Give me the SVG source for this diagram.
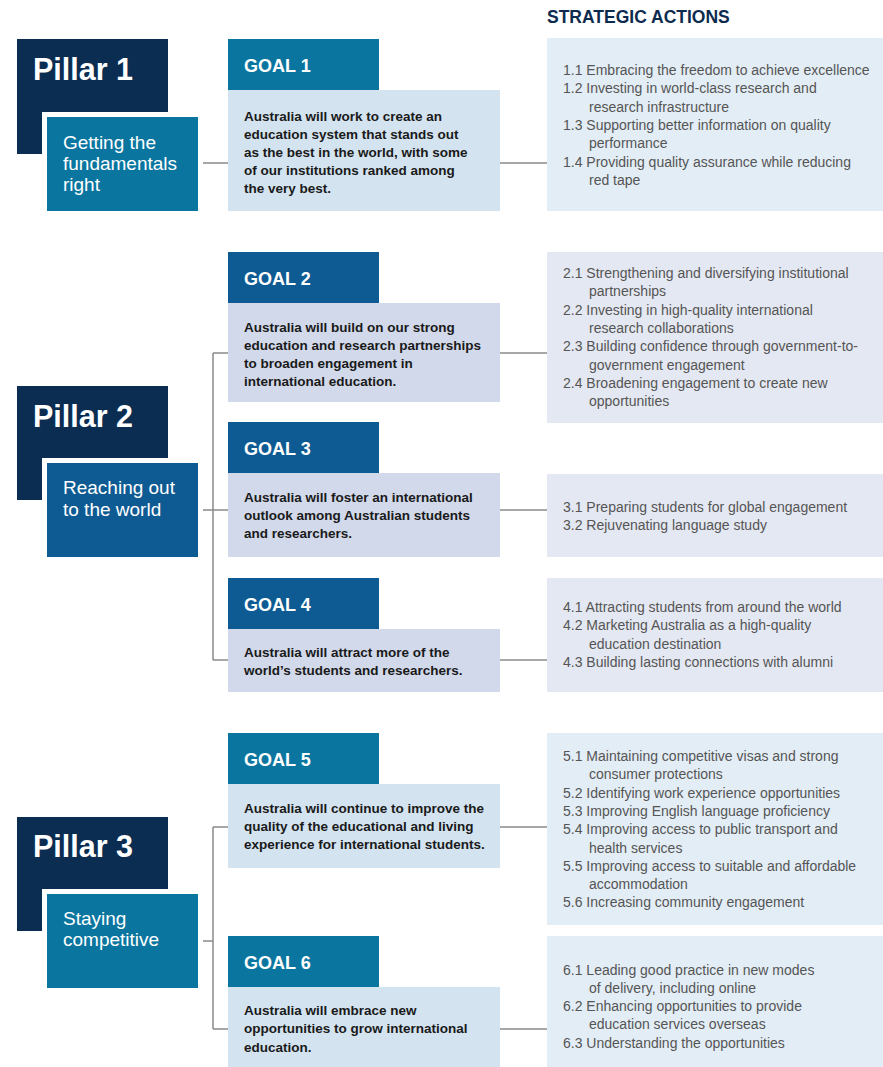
<svg xmlns="http://www.w3.org/2000/svg" width="883" height="1067" viewBox="0 0 883 1067">
<style>
.bg{fill:#ffffff}
.navy{fill:#0b2d52}
.teal{fill:#0a76a0}
.blue{fill:#0e5b93}
.lb{fill:#d3e3ef}
.lv{fill:#d1d9ea}
.ab{fill:#e3edf5}
.av{fill:#e4e8f2}
.pt{font-family:"Liberation Sans",Arial,sans-serif;font-weight:bold;font-size:30.5px;fill:#ffffff}
.st{font-family:"Liberation Sans",Arial,sans-serif;font-size:19px;fill:#ffffff}
.gh{font-family:"Liberation Sans",Arial,sans-serif;font-weight:bold;font-size:18px;fill:#ffffff}
.gt{font-family:"Liberation Sans",Arial,sans-serif;font-weight:bold;font-size:13.5px;fill:#1a1a1a}
.at{font-family:"Liberation Sans",Arial,sans-serif;font-size:14px;fill:#555555}
.title{font-family:"Liberation Sans",Arial,sans-serif;font-weight:bold;font-size:17.5px;fill:#0d2b4e}
.conn{stroke:#8a8a8a;stroke-width:1.5;fill:none}
</style>
<rect x="0" y="0" width="883" height="1067" class="bg"/>
<text x="547" y="22.5" class="title">STRATEGIC ACTIONS</text>

<g id="connectors">
<path class="conn" d="M198 163H228M500 163H547"/>
<path class="conn" d="M198 510H228M213 353V660M213 353H228M213 660H228M500 353H547M500 510H547M500 660H547"/>
<path class="conn" d="M198 941H213M213 827V1029M213 827H228M213 1029H228M500 827H547M500 1029H547"/>
</g>

<g id="pillar1">
<rect x="17" y="39" width="151" height="115" class="navy"/>
<text x="33" y="80" class="pt">Pillar 1</text>
<rect x="42" y="112" width="161" height="104" class="bg"/>
<rect x="47" y="117" width="151" height="94" class="teal"/>
<text class="st"><tspan x="63" y="149">Getting the</tspan><tspan x="63" y="170">fundamentals</tspan><tspan x="63" y="191">right</tspan></text>
</g>

<g id="pillar2">
<rect x="17" y="386" width="151" height="114" class="navy"/>
<text x="33" y="427" class="pt">Pillar 2</text>
<rect x="42" y="458" width="161" height="104" class="bg"/>
<rect x="47" y="463" width="151" height="94" class="blue"/>
<text class="st"><tspan x="63" y="494">Reaching out</tspan><tspan x="63" y="516">to the world</tspan></text>
</g>

<g id="pillar3">
<rect x="17" y="817" width="151" height="114" class="navy"/>
<text x="33" y="857" class="pt">Pillar 3</text>
<rect x="42" y="889" width="161" height="104" class="bg"/>
<rect x="47" y="894" width="151" height="94" class="teal"/>
<text class="st"><tspan x="63" y="925">Staying</tspan><tspan x="63" y="946">competitive</tspan></text>
</g>

<g id="goal1">
<rect x="228" y="90" width="272" height="121" class="lb"/>
<rect x="228" y="39" width="151" height="51" class="teal"/>
<text x="244" y="71.5" class="gh">GOAL 1</text>
<text class="gt"><tspan x="244" y="121">Australia will work to create an</tspan><tspan x="244" y="139">education system that stands out</tspan><tspan x="244" y="157">as the best in the world, with some</tspan><tspan x="244" y="175">of our institutions ranked among</tspan><tspan x="244" y="193">the very best.</tspan></text>
</g>

<g id="goal2">
<rect x="228" y="303" width="272" height="99" class="lv"/>
<rect x="228" y="252" width="151" height="51" class="blue"/>
<text x="244" y="284.5" class="gh">GOAL 2</text>
<text class="gt"><tspan x="244" y="331.5">Australia will build on our strong</tspan><tspan x="244" y="349.5">education and research partnerships</tspan><tspan x="244" y="367.5">to broaden engagement in</tspan><tspan x="244" y="385.5">international education.</tspan></text>
</g>

<g id="goal3">
<rect x="228" y="473" width="272" height="84" class="lv"/>
<rect x="228" y="422" width="151" height="51" class="blue"/>
<text x="244" y="454.5" class="gh">GOAL 3</text>
<text class="gt"><tspan x="244" y="501.5">Australia will foster an international</tspan><tspan x="244" y="519.5">outlook among Australian students</tspan><tspan x="244" y="537.5">and researchers.</tspan></text>
</g>

<g id="goal4">
<rect x="228" y="629" width="272" height="63" class="lv"/>
<rect x="228" y="578" width="151" height="51" class="blue"/>
<text x="244" y="610.5" class="gh">GOAL 4</text>
<text class="gt"><tspan x="244" y="656.5">Australia will attract more of the</tspan><tspan x="244" y="674.5">world’s students and researchers.</tspan></text>
</g>

<g id="goal5">
<rect x="228" y="784" width="272" height="84" class="lb"/>
<rect x="228" y="733" width="151" height="51" class="teal"/>
<text x="244" y="765.5" class="gh">GOAL 5</text>
<text class="gt"><tspan x="244" y="812.5">Australia will continue to improve the</tspan><tspan x="244" y="830.5">quality of the educational and living</tspan><tspan x="244" y="848.5">experience for international students.</tspan></text>
</g>

<g id="goal6">
<rect x="228" y="987" width="272" height="80" class="lb"/>
<rect x="228" y="936" width="151" height="51" class="teal"/>
<text x="244" y="968.5" class="gh">GOAL 6</text>
<text class="gt"><tspan x="244" y="1014.5">Australia will embrace new</tspan><tspan x="244" y="1033">opportunities to grow international</tspan><tspan x="244" y="1051.5">education.</tspan></text>
</g>

<g id="actions1">
<rect x="547" y="38" width="336" height="173" class="ab"/>
<text class="at"><tspan x="563" y="75">1.1 Embracing the freedom to achieve excellence</tspan><tspan x="563" y="93.3">1.2 Investing in world-class research and</tspan><tspan x="589" y="111.6">research infrastructure</tspan><tspan x="563" y="130">1.3 Supporting better information on quality</tspan><tspan x="589" y="148.2">performance</tspan><tspan x="563" y="166.5">1.4 Providing quality assurance while reducing</tspan><tspan x="589" y="184.8">red tape</tspan></text>
</g>

<g id="actions2">
<rect x="547" y="252" width="336" height="171" class="av"/>
<text class="at"><tspan x="563" y="278">2.1 Strengthening and diversifying institutional</tspan><tspan x="589" y="296.3">partnerships</tspan><tspan x="563" y="314.6">2.2 Investing in high-quality international</tspan><tspan x="589" y="333">research collaborations</tspan><tspan x="563" y="351.2">2.3 Building confidence through government-to-</tspan><tspan x="589" y="369.5">government engagement</tspan><tspan x="563" y="387.8">2.4 Broadening engagement to create new</tspan><tspan x="589" y="406">opportunities</tspan></text>
</g>

<g id="actions3">
<rect x="547" y="474" width="336" height="83" class="av"/>
<text class="at"><tspan x="563" y="511.5">3.1 Preparing students for global engagement</tspan><tspan x="563" y="530">3.2 Rejuvenating language study</tspan></text>
</g>

<g id="actions4">
<rect x="547" y="578" width="336" height="114" class="av"/>
<text class="at"><tspan x="563" y="612">4.1 Attracting students from around the world</tspan><tspan x="563" y="630.3">4.2 Marketing Australia as a high-quality</tspan><tspan x="589" y="648.6">education destination</tspan><tspan x="563" y="667">4.3 Building lasting connections with alumni</tspan></text>
</g>

<g id="actions5">
<rect x="547" y="733" width="336" height="192" class="ab"/>
<text class="at"><tspan x="563" y="761">5.1 Maintaining competitive visas and strong</tspan><tspan x="589" y="779.3">consumer protections</tspan><tspan x="563" y="797.6">5.2 Identifying work experience opportunities</tspan><tspan x="563" y="816">5.3 Improving English language proficiency</tspan><tspan x="563" y="834.2">5.4 Improving access to public transport and</tspan><tspan x="589" y="852.5">health services</tspan><tspan x="563" y="870.8">5.5 Improving access to suitable and affordable</tspan><tspan x="589" y="889">accommodation</tspan><tspan x="563" y="907.4">5.6 Increasing community engagement</tspan></text>
</g>

<g id="actions6">
<rect x="547" y="936" width="336" height="131" class="ab"/>
<text class="at"><tspan x="563" y="974.5">6.1 Leading good practice in new modes</tspan><tspan x="589" y="992.8">of delivery, including online</tspan><tspan x="563" y="1011">6.2 Enhancing opportunities to provide</tspan><tspan x="589" y="1029.4">education services overseas</tspan><tspan x="563" y="1047.7">6.3 Understanding the opportunities</tspan></text>
</g>
</svg>
